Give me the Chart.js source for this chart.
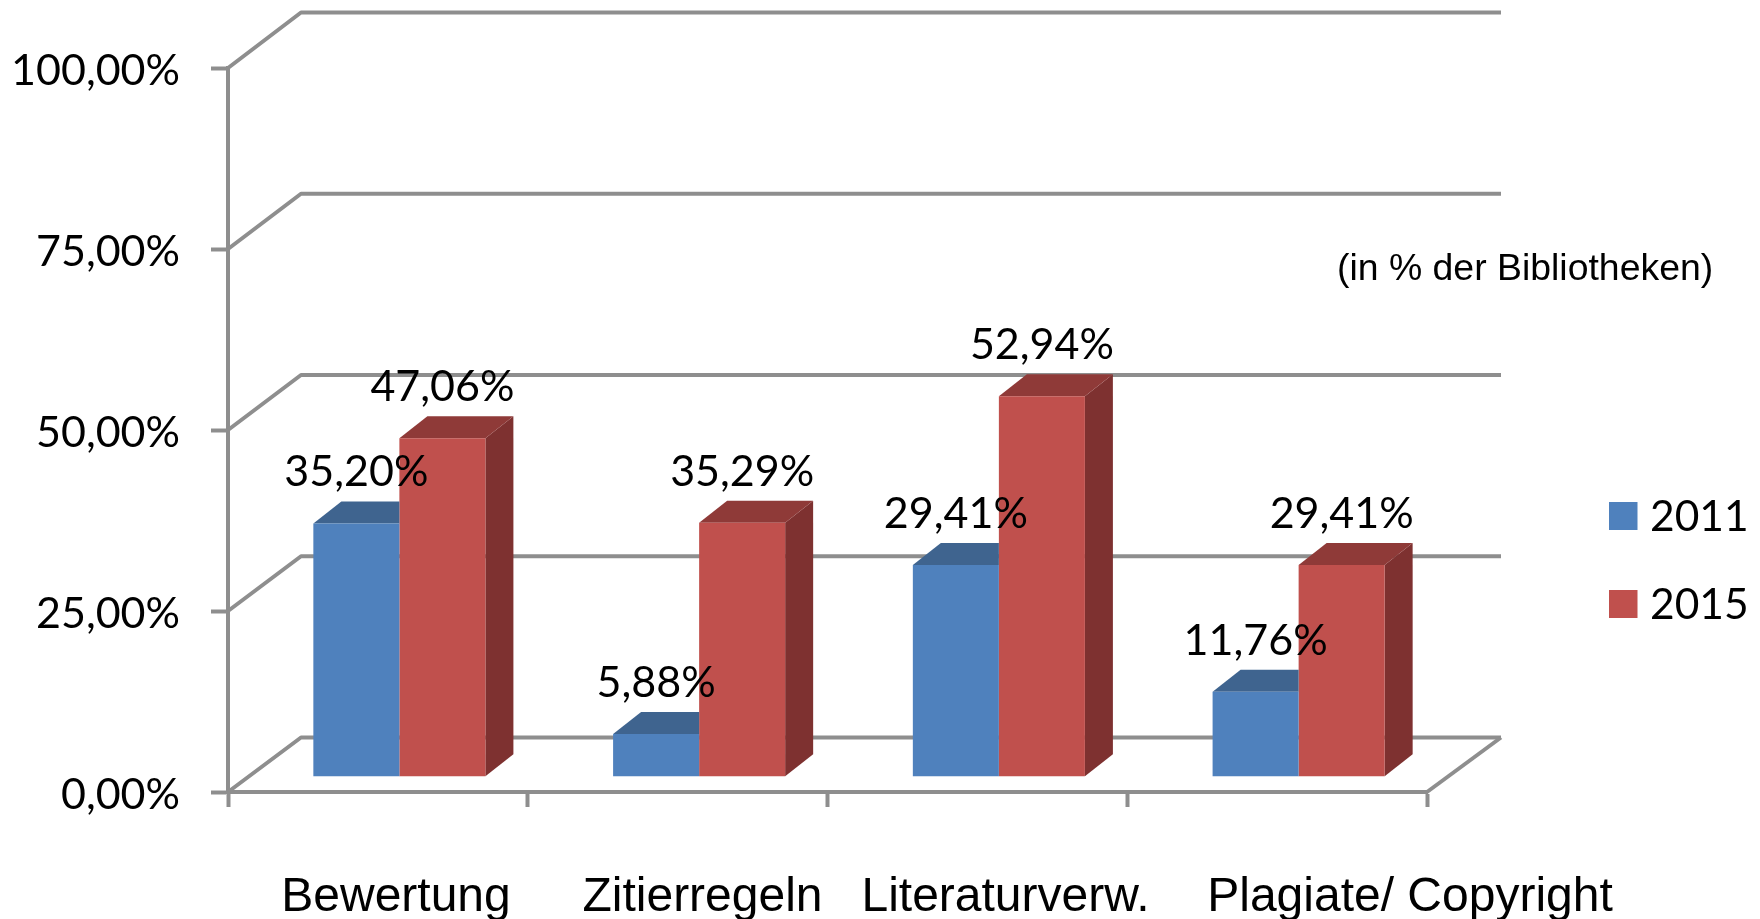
<!DOCTYPE html>
<html>
<head>
<meta charset="utf-8">
<style>html,body{margin:0;padding:0;background:#fff}canvas{display:block}</style>
<script src="https://cdn.jsdelivr.net/npm/chart.js@4/dist/chart.umd.min.js"></script>
</head>
<body>
<canvas id="c" width="1760" height="919"></canvas>
<script>
const categories = ['Bewertung', 'Zitierregeln', 'Literaturverw.', 'Plagiate/ Copyright'];
const series2011 = [35.20, 5.88, 29.41, 11.76];
const series2015 = [47.06, 35.29, 52.94, 29.41];
const seriesNames = ['2011', '2015'];
const yTickValues = [0, 25, 50, 75, 100];
const note = '(in % der Bibliotheken)';

const GRID = '#8e8e8e';
const GRID_W = 4;
const NUM_FONT = 'Lato, "Open Sans", sans-serif';
const SANS_FONT = '"Liberation Sans", Arial, sans-serif';
const WALL = {dx: 73, dxRight: 74, dy: v => 54.5 + v * 0.01};
const BAR_SHIFT = 21.5;
const BAR_DEPTH = {dx: 28, dy: 22};
const CATEGORY_LABEL_CENTERS = [396, 702.5, 1005.5, 1410];
const fmt = v => v.toFixed(2).replace('.', ',') + '%';

const colors = [
  {front: '#4f81bd', top: '#3f648f', side: '#3a5d86'},
  {front: '#c0504d', top: '#8f3a38', side: '#7e3130'}
];

const scene = {
  id: 'scene',
  beforeDatasetsDraw(chart) {
    const {ctx, chartArea: a, scales: {y}} = chart;
    ctx.save();
    ctx.strokeStyle = GRID;
    ctx.lineWidth = GRID_W;
    ctx.lineJoin = 'round';
    yTickValues.forEach(v => {
      const p = y.getPixelForValue(v);
      const back = p - WALL.dy(v);
      ctx.beginPath();
      ctx.moveTo(a.left, p);
      ctx.lineTo(a.left + WALL.dx, back);
      ctx.lineTo(a.right + WALL.dxRight, back);
      ctx.stroke();
    });
    ctx.beginPath();
    ctx.moveTo(a.right, a.bottom);
    ctx.lineTo(a.right + WALL.dxRight, a.bottom - WALL.dy(0));
    ctx.stroke();
    ctx.restore();
  },
  beforeDatasetDraw(chart, args) {
    const {ctx} = chart;
    ctx.save();
    ctx.translate(BAR_SHIFT, 0);
    const c = colors[args.index];
    // The left bar of each pair sits behind its taller right neighbour,
    // so only the part of its top face left of that neighbour is visible.
    const hidden = args.index === 0;
    args.meta.data.forEach(b => {
      const l = b.x - b.width / 2, r = b.x + b.width / 2, t = b.y, bt = b.base;
      const d = BAR_DEPTH;
      if (!hidden) {
        ctx.fillStyle = c.side;
        ctx.beginPath();
        ctx.moveTo(r, t); ctx.lineTo(r + d.dx, t - d.dy); ctx.lineTo(r + d.dx, bt - d.dy); ctx.lineTo(r, bt);
        ctx.closePath(); ctx.fill();
      }
      ctx.fillStyle = c.top;
      ctx.beginPath();
      ctx.moveTo(l, t); ctx.lineTo(l + d.dx, t - d.dy);
      ctx.lineTo(hidden ? r : r + d.dx, t - d.dy); ctx.lineTo(r, t);
      ctx.closePath(); ctx.fill();
    });
  },
  afterDatasetDraw(chart) {
    chart.ctx.restore();
  },
  afterDatasetsDraw(chart) {
    const {ctx} = chart;
    ctx.save();
    ctx.fillStyle = '#000';
    ctx.textBaseline = 'middle';

    // value labels
    ctx.font = '43px ' + NUM_FONT;
    ctx.textAlign = 'center';
    chart.data.datasets.forEach((ds, i) => {
      chart.getDatasetMeta(i).data.forEach((b, j) => {
        ctx.fillText(fmt(ds.data[j]), b.x + BAR_SHIFT, b.y - 51);
      });
    });

    // category labels
    ctx.font = '48px ' + SANS_FONT;
    categories.forEach((c, i) => ctx.fillText(c, CATEGORY_LABEL_CENTERS[i], 898));

    // note
    ctx.font = '37.4px ' + SANS_FONT;
    ctx.textAlign = 'left';
    ctx.fillText(note, 1337, 270);

    // legend
    const legendY = [516, 604];
    chart.data.datasets.forEach((ds, i) => {
      ctx.fillStyle = colors[i].front;
      ctx.fillRect(1609, legendY[i] - 14, 28.5, 28);
      ctx.fillStyle = '#000';
      ctx.font = '42.5px ' + NUM_FONT;
      ctx.fillText(ds.label, 1650, legendY[i] + 1);
    });
    ctx.restore();
  }
};

new Chart(document.getElementById('c'), {
  type: 'bar',
  data: {
    labels: categories,
    datasets: [
      {label: seriesNames[0], data: series2011, backgroundColor: colors[0].front, yAxisID: 'yBars', clip: false},
      {label: seriesNames[1], data: series2015, backgroundColor: colors[1].front, yAxisID: 'yBars', clip: false}
    ]
  },
  plugins: [scene],
  options: {
    responsive: false,
    animation: false,
    layout: {padding: {top: 68, right: 333, bottom: 0, left: 0}},
    datasets: {bar: {categoryPercentage: 0.574, barPercentage: 1}},
    plugins: {legend: {display: false}, tooltip: {enabled: false}, title: {display: false}},
    scales: {
      x: {
        ticks: {display: false},
        border: {color: GRID, width: GRID_W},
        grid: {drawOnChartArea: false, tickLength: 15, tickColor: GRID, tickWidth: GRID_W, offset: true},
        afterFit(s) { s.height = 127; }
      },
      y: {
        min: 0, max: 100,
        position: 'left',
        afterFit(s) {
          s.width = 228;
          if (!s._labelsNudged) {
            s._labelsNudged = true;
            const drawLabels = s.drawLabels;
            s.drawLabels = function (area) {
              this.ctx.save();
              this.ctx.translate(0, 3);
              drawLabels.call(this, area);
              this.ctx.restore();
            };
          }
        },
        afterBuildTicks(s) { s.ticks = yTickValues.map(v => ({value: v})); },
        ticks: {
          padding: 31,
          color: '#000',
          font: {family: NUM_FONT, size: 43},
          callback: v => fmt(v)
        },
        border: {color: GRID, width: GRID_W},
        grid: {drawOnChartArea: false, tickLength: 17, tickColor: GRID, tickWidth: GRID_W}
      },
      yBars: {
        display: false,
        min: -2.2, max: 98.65
      }
    }
  }
});
</script>
</body>
</html>
